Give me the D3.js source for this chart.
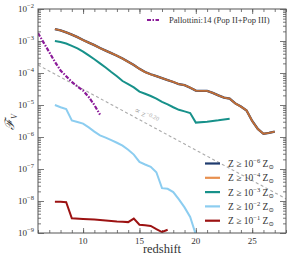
<!DOCTYPE html>
<html>
<head>
<meta charset="utf-8">
<script src="https://cdn.jsdelivr.net/npm/d3@7"></script>
<style>
  body { margin: 0; background: #fff; }
  text { font-family: "Liberation Serif", "DejaVu Serif", serif; fill: #333; }
</style>
</head>
<body>
<div id="chart"></div>
<script>
// chart data (log10 of the filling factor)
var zSim = [7.5, 8, 8.5, 9, 9.5, 10, 10.5, 11, 11.5, 12, 12.5, 13, 13.5, 14, 14.5, 15, 15.5, 16, 16.5, 17, 17.5,
    18, 18.5, 19, 19.5, 20, 20.5, 21, 21.5, 22, 22.5, 23, 23.5, 24, 24.5, 25, 25.5, 26, 26.5, 27];
var logF6 = [-2.63, -2.67, -2.73, -2.8, -2.88, -2.97, -3.05, -3.13, -3.22, -3.3, -3.38, -3.46, -3.55, -3.65, -3.75, -3.87, -3.97, -4.04, -4.1, -4.16, -4.22,
    -4.28, -4.35, -4.38, -4.46, -4.55, -4.56, -4.56, -4.62, -4.7, -4.77, -4.8, -4.95, -5.05, -5.17, -5.5, -5.75, -5.9, -5.87, -5.83];
var logF4 = [-2.63, -2.67, -2.73, -2.8, -2.88, -2.97, -3.05, -3.13, -3.22, -3.3, -3.38, -3.46, -3.55, -3.65, -3.75, -3.87, -3.97, -4.04, -4.1, -4.16, -4.22,
    -4.28, -4.35, -4.38, -4.46, -4.55, -4.56, -4.56, -4.62, -4.7, -4.77, -4.8, -4.95, -5.05, -5.17, -5.5, -5.75, -5.9, -5.87, -5.83];

var z3 = [7.5, 8, 8.5, 9, 9.5, 10, 10.5, 11, 11.5, 12, 12.5, 13, 13.5, 14, 14.5, 15, 15.5, 16, 16.5, 17, 17.5, 18, 18.5, 19, 19.5, 20, 21, 22, 23];
var logF3 = [-3.0, -3.03, -3.08, -3.15, -3.23, -3.33, -3.45, -3.57, -3.7, -3.83, -3.97, -4.1, -4.25, -4.35, -4.45, -4.58, -4.65, -4.72, -4.8, -4.9, -4.98, -5.07, -5.15, -5.2, -5.25, -5.55, -5.52, -5.48, -5.43];

var z2 = [7.5, 8, 8.5, 9, 9.5, 10, 10.5, 11, 11.5, 12, 12.5, 13, 13.5, 14, 14.5, 15, 15.5, 16, 16.5, 17, 17.5, 18, 18.5, 19, 19.5, 20];
var logF2 = [-5.0, -5.07, -5.13, -5.48, -5.53, -5.58, -5.7, -5.83, -5.95, -6.02, -6.1, -6.18, -6.27, -6.4, -6.55, -6.78, -6.86, -6.93, -7.1, -7.6, -7.62, -7.72, -7.95, -8.2, -8.5, -9.05];

var z1 = [7.5, 8, 8.5, 9, 10, 11, 12, 13, 13.5, 14, 14.5, 15, 15.5, 16, 16.5, 17, 17.5];
var logF1 = [-8.02, -8.02, -8.04, -8.54, -8.56, -8.58, -8.61, -8.64, -8.65, -8.66, -8.55, -8.74, -8.76, -8.78, -8.88, -8.97, -8.9];

var zPal = [6, 6.5, 7, 7.5, 8, 8.5, 9, 9.5, 10, 10.5, 11, 11.5];
var logPal = [-2.75, -3.05, -3.35, -3.65, -3.92, -4.1, -4.28, -4.42, -4.55, -4.75, -5.0, -5.3];

// reference slope line
var zFit = [6, 28];
var logFit = [-3.75, -7.93];

var xTicks = [10, 15, 20, 25];
var yExp = [-9, -8, -7, -6, -5, -4, -3, -2];

var seriesNames = ["−6", "−4", "−3", "−2", "−1"];
var seriesColors = ["#1f3b6e", "#e8904f", "#17918a", "#8ccdf0", "#9c1212"];

var svgWidth = 305;
var svgHeight = 257;
var margin = { top: 9, right: 19, bottom: 24, left: 38 };
var width = svgWidth - margin.left - margin.right;
var height = svgHeight - margin.top - margin.bottom;

var svg = d3.select("#chart").append("svg")
    .attr("width", svgWidth)
    .attr("height", svgHeight);

var g = svg.append("g")
    .attr("transform", `translate(${margin.left}, ${margin.top})`);

var x = d3.scaleLinear().domain([6, 28]).range([0, width]);
var y = d3.scaleLog().domain([1e-9, 1e-2]).range([height, 0]);

g.append("clipPath").attr("id", "clip")
    .append("rect").attr("width", width).attr("height", height);

// minor/major ticks, inward on all four sides
var minorX = d3.range(6, 29, 1);
var minorY = [];
yExp.forEach(e => { for (var k = 2; k < 10; k++) { if (e < -2) minorY.push(k * Math.pow(10, e)); } });
var majorY = yExp.map(e => Math.pow(10, e));

function tickGroup(axisFn, scale, vals, size, tr) {
    var a = g.append("g").attr("transform", tr)
        .call(axisFn(scale).tickValues(vals).tickSize(size).tickFormat(""));
    a.select(".domain").remove();
    a.selectAll("line").attr("stroke", "#555").attr("stroke-width", 0.8);
}
tickGroup(d3.axisBottom, x, minorX, -3, `translate(0,${height})`);
tickGroup(d3.axisBottom, x, xTicks, -5, `translate(0,${height})`);
tickGroup(d3.axisTop, x, minorX, -3, "translate(0,0)");
tickGroup(d3.axisTop, x, xTicks, -5, "translate(0,0)");
tickGroup(d3.axisLeft, y, minorY, -3, "translate(0,0)");
tickGroup(d3.axisLeft, y, majorY, -6, "translate(0,0)");
tickGroup(d3.axisRight, y, minorY, -3, `translate(${width},0)`);
tickGroup(d3.axisRight, y, majorY, -6, `translate(${width},0)`);

// tick labels
g.selectAll(".xl").data(xTicks).enter().append("text")
    .attr("x", d => x(d)).attr("y", height + 11)
    .attr("text-anchor", "middle").attr("font-size", 9)
    .text(d => d);

var yl = g.selectAll(".yl").data(yExp).enter().append("text")
    .attr("x", -4).attr("y", d => y(Math.pow(10, d)) + 3)
    .attr("text-anchor", "end").attr("font-size", 9);
yl.append("tspan").text("10");
yl.append("tspan").attr("dy", -4).attr("font-size", 6.5).text(d => "−" + (-d));

// lines
var line = d3.line()
    .x(d => x(d[0]))
    .y(d => y(Math.pow(10, d[1])));

var plot = g.append("g").attr("clip-path", "url(#clip)");

plot.append("path").datum(d3.zip(zFit, logFit))
    .attr("d", line).attr("fill", "none")
    .attr("stroke", "#aaa").attr("stroke-width", 1.1).attr("stroke-dasharray", "3,2.5");

plot.append("path").datum(d3.zip(zSim, logF6))
    .attr("d", line).attr("fill", "none")
    .attr("stroke", seriesColors[0]).attr("stroke-width", 2.3);
plot.append("path").datum(d3.zip(zSim, logF4))
    .attr("d", line).attr("fill", "none")
    .attr("stroke", "#c06e36").attr("stroke-width", 1.9);
plot.append("path").datum(d3.zip(z3, logF3))
    .attr("d", line).attr("fill", "none")
    .attr("stroke", seriesColors[2]).attr("stroke-width", 2);
plot.append("path").datum(d3.zip(z2, logF2))
    .attr("d", line).attr("fill", "none")
    .attr("stroke", seriesColors[3]).attr("stroke-width", 2);
plot.append("path").datum(d3.zip(z1, logF1))
    .attr("d", line).attr("fill", "none")
    .attr("stroke", seriesColors[4]).attr("stroke-width", 2);
plot.append("path").datum(d3.zip(zPal, logPal))
    .attr("d", line).attr("fill", "none")
    .attr("stroke", "#8b1a99").attr("stroke-width", 2.2)
    .attr("stroke-dasharray", "4,1.5,1.5,1.5");

// slope label
var lx = x(15.5), ly = y(Math.pow(10, -3.75 - 0.19 * 9.5)) - 5;
var sl = g.append("text")
    .attr("transform", `translate(${lx},${ly}) rotate(28)`)
    .attr("text-anchor", "middle").attr("font-size", 8.5)
    .style("fill", "#aaa");
sl.append("tspan").text("∝ z");
sl.append("tspan").attr("dy", -3).attr("font-size", 6).text("−0.20");

// frame
g.append("rect").attr("width", width).attr("height", height)
    .attr("fill", "none").attr("stroke", "#555").attr("stroke-width", 1);

// legend, top
g.append("line").attr("x1", 109).attr("x2", 121).attr("y1", 11).attr("y2", 11)
    .attr("stroke", "#8b1a99").attr("stroke-width", 2.2).attr("stroke-dasharray", "4,1.5,1.5,1.5");
g.append("text").attr("x", 131).attr("y", 14).attr("font-size", 8.6)
    .text("Pallottini:14 (Pop II+Pop III)");

// legend, bottom right
var leg = g.selectAll(".leg").data(seriesNames).enter().append("g")
    .attr("transform", (d, i) => `translate(167,${154.5 + i * 14.3})`);
leg.append("line").attr("x1", 0).attr("x2", 15)
    .attr("stroke", (d, i) => seriesColors[i]).attr("stroke-width", 2.2);
var lt = leg.append("text").attr("x", 23).attr("y", 3.5).attr("font-size", 9.5);
lt.append("tspan").text("Z ≥ 10");
lt.append("tspan").attr("dy", -4).attr("font-size", 6.5).text(d => d);
lt.append("tspan").attr("dy", 4).text(" Z");
lt.append("tspan").attr("dy", 2).attr("font-size", 6.5).text("⊙");

// axis titles
svg.append("text").attr("x", margin.left + x(17)).attr("y", 253)
    .attr("text-anchor", "middle").attr("font-size", 12.5)
    .text("redshift");
var yt = svg.append("text")
    .attr("transform", `translate(14,122) rotate(-90)`)
    .attr("text-anchor", "middle").attr("font-size", 13).attr("font-style", "italic");
yt.append("tspan").text("ℱ");
yt.append("tspan").attr("dy", 3).attr("font-size", 8).text("V");
</script>
</body>
</html>
